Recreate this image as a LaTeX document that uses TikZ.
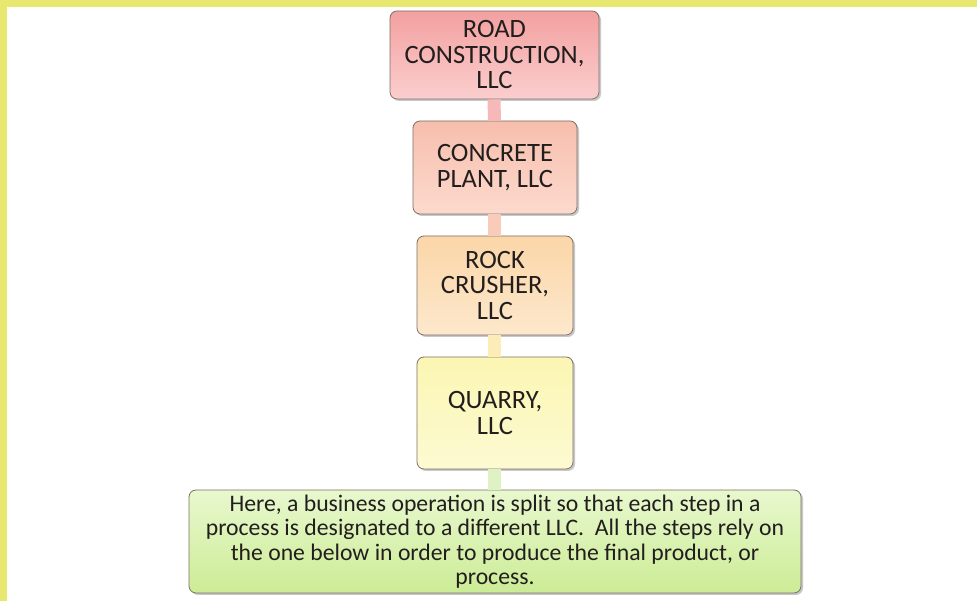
\documentclass[tikz,border=0pt]{standalone}
\usepackage{fontspec}
\setmainfont{Carlito}
\usetikzlibrary{shadows}
\definecolor{border}{RGB}{232,232,112}
\definecolor{edge}{RGB}{125,112,105}
\definecolor{txt}{RGB}{35,30,30}
\definecolor{cAtop}{RGB}{243,160,160}\definecolor{cAbot}{RGB}{251,206,206}
\definecolor{cBtop}{RGB}{247,190,172}\definecolor{cBbot}{RGB}{252,218,206}
\definecolor{cCtop}{RGB}{251,214,168}\definecolor{cCbot}{RGB}{253,232,204}
\definecolor{cDtop}{RGB}{251,246,178}\definecolor{cDbot}{RGB}{253,250,210}
\definecolor{cEtop}{RGB}{232,248,206}\definecolor{cEbot}{RGB}{204,236,150}
\definecolor{kA}{RGB}{246,184,184}
\definecolor{kB}{RGB}{249,204,186}
\definecolor{kC}{RGB}{252,236,184}
\definecolor{kD}{RGB}{222,242,196}
\tikzset{
  x=1pt,y=1pt,
  stepbox/.style={draw=edge, line width=0.8pt, rounded corners=7pt, align=center,
    text=txt, inner sep=2pt,
    drop shadow={shadow xshift=2pt, shadow yshift=-2pt, opacity=0.3, fill=black!70},
    font=\fontsize{26.5}{25.5}\selectfont},
  link/.style={line width=13pt, line cap=butt}
}
\begin{document}
\begin{tikzpicture}
\useasboundingbox (0,0) rectangle (977,601);
\fill[white] (0,0) rectangle (977,601);
\fill[border] (0,594) rectangle (977,601);
\fill[border] (0,0) rectangle (7,601);
\node[stepbox, minimum width=209pt, minimum height=88pt, top color=cAtop, bottom color=cAbot] (n1) at (494.5,546) {ROAD\\CONSTRUCTION,\\LLC};
\node[stepbox, minimum width=164pt, minimum height=93pt, top color=cBtop, bottom color=cBbot] (n2) at (495,433.5) {CONCRETE\\PLANT, LLC};
\node[stepbox, minimum width=156pt, minimum height=99pt, top color=cCtop, bottom color=cCbot] (n3) at (495,315.5) {ROCK\\CRUSHER,\\LLC};
\node[stepbox, minimum width=156pt, minimum height=112pt, top color=cDtop, bottom color=cDbot] (n4) at (495,188) {QUARRY,\\LLC};
\node[stepbox, minimum width=612pt, minimum height=103pt, top color=cEtop, bottom color=cEbot,
  font=\fontsize{23.7}{24.5}\selectfont] (n5) at (495,59.5)
  {Here, a business operation is split so that each step in a\\process is designated to a different LLC.\ \ All the steps rely on\\the one below in order to produce the final product, or\\process.};
\draw[link, kA] ([xshift=-0.5pt]n1.south) -- ([xshift=-0.5pt]n2.north);
\draw[link, kB] ([xshift=-0.5pt]n2.south) -- ([xshift=-0.5pt]n3.north);
\draw[link, kC] ([xshift=-0.5pt]n3.south) -- ([xshift=-0.5pt]n4.north);
\draw[link, kD] ([xshift=-0.5pt]n4.south) -- ([xshift=-0.5pt]n5.north);
\end{tikzpicture}
\end{document}
